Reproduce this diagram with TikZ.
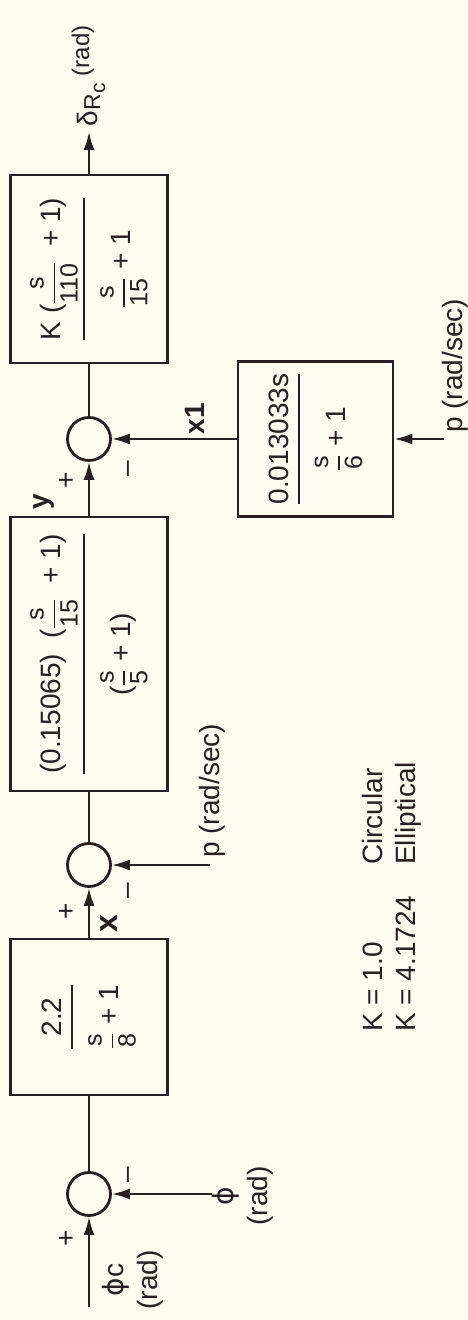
\documentclass[tikz,border=0pt]{standalone}
\usepackage{amsmath}
\usepackage{fontspec}
\setmainfont{Liberation Sans}
\newfontfamily\dvs{DejaVu Sans}
\usetikzlibrary{arrows.meta}
\definecolor{ink}{RGB}{38,33,30}
\definecolor{paper}{RGB}{252,252,241}
\newcommand\nf[2]{\ensuremath{\genfrac{}{}{1.5pt}{0}{\hbox{\fontsize{25}{25}\selectfont #1}}{\hbox{\fontsize{25}{25}\selectfont #2}}}}
\newcommand\mf[2]{\ensuremath{\genfrac{}{}{1.8pt}{0}{\hbox{#1}}{\hbox{\rule{0pt}{40pt}#2}}}}
\tikzset{
  blk/.style={draw=ink, line width=2.6pt, minimum height=157pt, inner sep=0pt, text=ink},
  sj/.style={circle, draw=ink, line width=2.8pt, minimum size=43pt, inner sep=0pt},
  sig/.style={draw=ink, line width=2.2pt},
  arr/.style={sig, -{Latex[length=18pt,width=11pt]}},
  lbl/.style={text=ink, inner sep=0pt},
}
\begin{document}
\begin{tikzpicture}[x=1pt,y=1pt, every node/.style={font=\fontsize{28}{34}\selectfont, text=ink}]
\fill[paper] (0,0) rectangle (467,1320);
\useasboundingbox (0,0) rectangle (467,1320);
\begin{scope}[rotate=90, transform shape]
  % main path
  \coordinate (in) at (13,-89);
  \node[sj] (s1) at (126,-89) {};
  \node[blk, minimum width=156pt] (b1) at (303,-89) {\mf{2.2}{\nf{s}{8}\ + 1}};
  \node[sj] (s2) at (455,-89) {};
  \node[blk, minimum width=274pt] (b2) at (666,-89) {\mf{(0.15065)\ \ (\nf{s}{15}\ \ + 1)}{(\nf{s}{5}\ + 1)}};
  \node[sj] (s3) at (881,-89) {};
  \node[blk, minimum width=188pt] (b3) at (1051,-89) {\mf{K (\nf{s}{110}\ \ + 1)}{\nf{s}{15}\ + 1}};
  \coordinate (out) at (1188,-89);
  \node[blk, minimum width=155pt, minimum height=155pt] (b4) at (881,-315.5) {\mf{0.013033s}{\nf{s}{6}\ + 1}};
  \coordinate (phin) at (126,-212);
  \coordinate (pin1) at (455,-210);
  \coordinate (pin2) at (881,-444);
  % connectors
  \draw[arr] (in) -- (s1);
  \draw[arr] (phin) -- (s1);
  \draw[sig] (s1) -- (b1);
  \draw[arr] (b1) -- (s2);
  \draw[arr] (pin1) -- (s2);
  \draw[sig] (s2) -- (b2);
  \draw[arr] (b2) -- (s3);
  \draw[sig] (s3) -- (b3);
  \draw[arr] (b3) -- (out);
  \draw[arr] (b4) -- (s3);
  \draw[arr] (pin2) -- (b4);
  % signs
  \node[lbl] (p1) at (82,-67) {+};
  \node[lbl] (m1) at (145,-131) {–};
  \node[lbl] (p2) at (409,-67) {+};
  \node[lbl] (m2) at (429,-131) {–};
  \node[lbl] (p3) at (840,-67) {+};
  \node[lbl] (m3) at (851,-131) {–};
  % signal names
  \node[lbl] (lx) at (396,-109) {\fontsize{32}{32}\selectfont\bfseries x};
  \node[lbl] (ly) at (818,-44) {\bfseries y};
  \node[lbl] (lx1) at (901,-195) {\bfseries x1};
  % io labels
  \node[lbl, anchor=north, align=center] (lphic) at (40,-102) {{\dvs ϕ}c\\(rad)};
  \node[lbl, anchor=north, align=center] (lphi) at (124,-212) {{\dvs ϕ}\\(rad)};
  \node[lbl, anchor=west] (lp1) at (462,-212) {p (rad/sec)};
  \node[lbl, anchor=west] (lp2) at (887,-455) {p (rad/sec)};
  \node[lbl, anchor=base west] (ldelta) at (1193,-97) {δ\kern1pt\raisebox{-3pt}{\fontsize{23}{23}\selectfont R}\raisebox{-8pt}{\fontsize{21}{21}\selectfont c}\kern7pt\raisebox{8pt}{\fontsize{24}{24}\selectfont (rad)}};
  % K values
  \node[lbl, anchor=base west] (k1) at (288,-382) {K = 1.0};
  \node[lbl, anchor=base west] (k2) at (288,-415) {K = 4.1724};
  \node[lbl, anchor=base west] (c1) at (455,-382) {Circular};
  \node[lbl, anchor=base west] (c2) at (455,-415) {Elliptical};
\end{scope}
\end{tikzpicture}
\end{document}
